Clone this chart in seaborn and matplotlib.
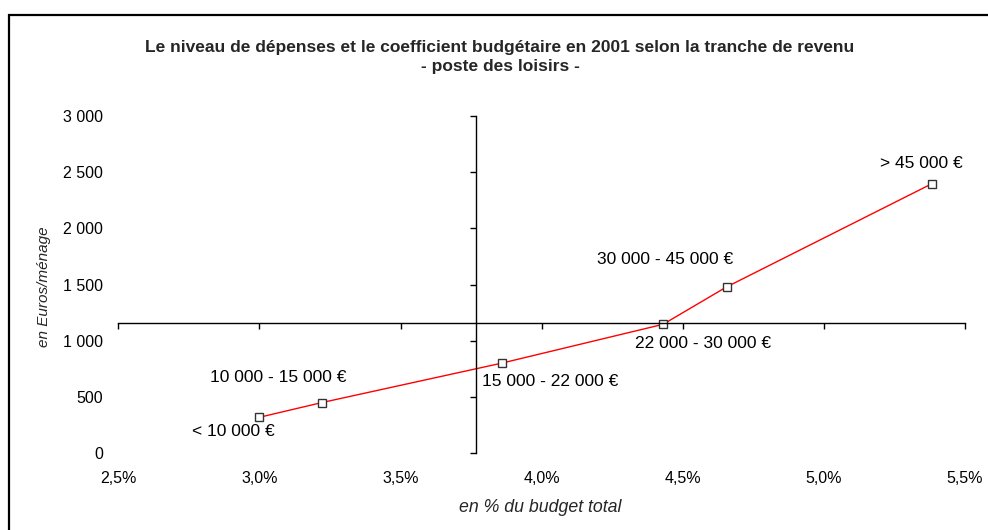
import matplotlib
matplotlib.use('Agg')
import matplotlib.pyplot as plt
import matplotlib.patches as patches
import pandas as pd
import seaborn as sns

# DATA

tranches = ['< 10 000 €', '10 000 - 15 000 €', '15 000 - 22 000 €',
            '22 000 - 30 000 €', '30 000 - 45 000 €', '> 45 000 €']
coef_budget = [3.00, 3.22, 3.86, 4.43, 4.655, 5.383]   # en % du budget total
depenses = [320, 450, 802, 1146, 1478, 2396]           # en euros / menage

x_ticks = [2.5, 3.0, 3.5, 4.0, 4.5, 5.0, 5.5]
y_ticks = [0, 500, 1000, 1500, 2000, 2500, 3000]
x_cross = 3.768
y_cross = 1155

# label offsets in points (dx, dy)
offsets = [(-18.5, -10), (-31.5, 18), (34.5, -13.5), (28.5, -13.5), (-44, 19.5), (-7.5, 14.5)]

df = pd.DataFrame({'tranche': tranches, 'coef': coef_budget, 'dep': depenses})

sns.set_style('white')
plt.rcParams['font.family'] = ['Liberation Sans', 'DejaVu Sans']

fig = plt.figure(figsize=(9.88, 5.30), dpi=100)
pos = [118.3 / 988, 1 - 453.3 / 530, (965 - 118.3) / 988, (453.3 - 115.7) / 530]

# axes with the crossing lines
ax = fig.add_axes(pos)
sns.lineplot(data=df, x='coef', y='dep', ax=ax, color='#ff0000', linewidth=1,
             marker='s', markersize=6, markerfacecolor='white',
             markeredgecolor='#333333', markeredgewidth=1, sort=False)
ax.set_xlim(2.5, 5.5)
ax.set_ylim(0, 3000)
ax.set_xticks(x_ticks)
ax.set_yticks(y_ticks)
ax.spines['top'].set_visible(False)
ax.spines['right'].set_visible(False)
ax.spines['left'].set_position(('data', x_cross))
ax.spines['bottom'].set_position(('data', y_cross))
for s in ['left', 'bottom']:
    ax.spines[s].set_color('black')
    ax.spines[s].set_linewidth(1)
ax.tick_params(axis='both', direction='out', length=4.5, width=1, color='black',
               labelleft=False, labelbottom=False, left=True, bottom=True)
ax.set_xlabel('')
ax.set_ylabel('')
ax.patch.set_alpha(0)

for t, x, y, (dx, dy) in zip(tranches, coef_budget, depenses, offsets):
    ax.annotate(t, (x, y), xytext=(dx, dy), textcoords='offset points',
                ha='center', va='center', fontsize=12.5, color='black')

# axes only for the tick labels (low position, like excel)
ax2 = fig.add_axes(pos, frameon=False, zorder=-1)
ax2.set_xlim(2.5, 5.5)
ax2.set_ylim(0, 3000)
ax2.set_xticks(x_ticks)
ax2.set_yticks(y_ticks)
ax2.set_xticklabels([f'{v:.1f}%'.replace('.', ',') for v in x_ticks])
ax2.set_yticklabels([f'{v:,}'.replace(',', ' ') for v in y_ticks])
ax2.tick_params(axis='both', length=0, labelsize=11.5, colors='black')
ax2.tick_params(axis='y', pad=11)
ax2.tick_params(axis='x', pad=13)

fig.text(44 / 988, 1 - 286.5 / 530, 'en Euros/ménage', rotation=90, ha='center',
         va='center', fontsize=11, style='italic')
fig.text(540 / 988, 1 - 507 / 530, 'en % du budget total', ha='center',
         va='center', fontsize=12.8, style='italic')
fig.text(500 / 988, 1 - 57 / 530,
         'Le niveau de dépenses et le coefficient budgétaire en 2001 selon la tranche de revenu\n- poste des loisirs -',
         ha='center', va='center', fontsize=12.5, fontweight='bold', linespacing=1.35)

# frame around the chart
fig.patches.append(patches.Rectangle((9 / 988, -0.2), 1.2, 1.2 - 15 / 530,
                                     transform=fig.transFigure, fill=False,
                                     edgecolor='black', linewidth=1.6))

fig.savefig('out.png', dpi=100)
